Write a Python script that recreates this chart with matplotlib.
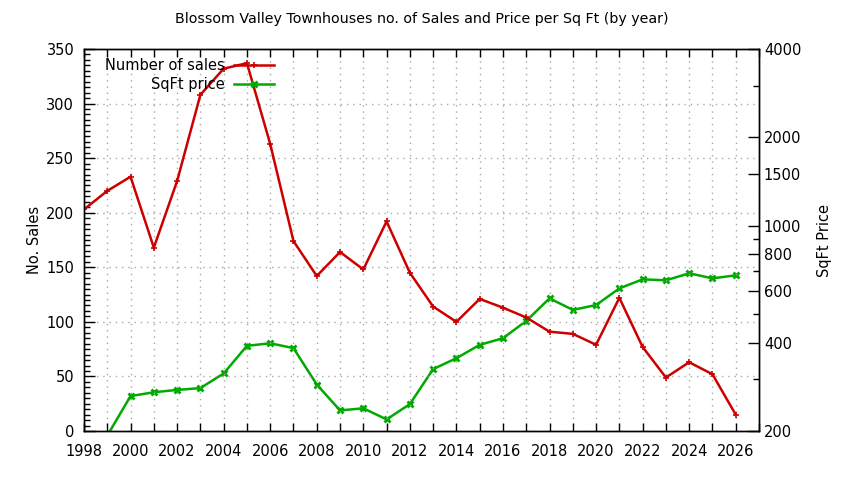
import numpy as np
import matplotlib
matplotlib.use("Agg")
import matplotlib.pyplot as plt
from matplotlib.ticker import FixedLocator, NullFormatter

years = list(range(1998, 2027))
sales = [203, 220, 233, 168, 229, 308, 332, 337, 263, 174, 142, 164, 148, 192,
         145, 114, 100, 121, 113, 104, 91, 89, 79, 122, 77, 49, 63, 52, 15]
price = [np.nan, 193, 263, 271, 276, 280, 314, 390, 398, 383, 288, 235, 239, 219,
         247, 325, 354, 393, 414, 474, 566, 517, 537, 612, 657, 652, 689, 662, 678]

xtick_labels = [str(y) if y % 2 == 0 else "" for y in years + [2027]]
y2_ticks = [200, 400, 600, 800, 1000, 1500, 2000, 4000]
y2_minor = [300, 500, 700, 900, 3000]

RED = "#cc0000"
GREEN = "#00aa00"
FS = 10.5

fig = plt.figure(figsize=(8.44, 4.8), dpi=100)
ax = fig.add_axes([84/844, 1-431/480, (759-84)/844, (431-49)/480])
ax2 = ax.twinx()

l1, = ax.plot(years, sales, color=RED, lw=1.8, marker="+", ms=5, mew=1.2, label="Number of sales")
l2, = ax2.plot(years, price, color=GREEN, lw=1.8, marker="x", ms=4.5, mew=2, label="SqFt price")

ax.set_xlim(1998, 2027)
ax.set_ylim(0, 350)
ax.set_xticks(years + [2027])
ax.set_xticklabels(xtick_labels)
ax.set_yticks(np.arange(0, 351, 50))
ax.yaxis.set_minor_locator(FixedLocator(np.arange(0, 351, 5)))
ax.tick_params(axis="both", which="both", direction="in", labelsize=FS)
ax.tick_params(axis="x", top=True, length=6, width=1, pad=9)
ax.tick_params(axis="y", which="major", length=8, width=1, right=False, pad=7)
ax.tick_params(axis="y", which="minor", length=4, width=1, right=False)
ax.grid(True, which="major", color="#a8a8a8", linestyle=(0, (1, 3.5)), linewidth=1)

ax2.set_yscale("log")
ax2.set_ylim(200, 4000)
ax2.yaxis.set_major_locator(FixedLocator(y2_ticks))
ax2.set_yticklabels([str(v) for v in y2_ticks])
ax2.yaxis.set_minor_locator(FixedLocator(y2_minor))
ax2.yaxis.set_minor_formatter(NullFormatter())
ax2.tick_params(axis="y", which="major", direction="in", length=8, width=1, labelsize=FS)
ax2.tick_params(axis="y", which="minor", direction="in", length=4, width=1)

for a in (ax, ax2):
    for s in a.spines.values():
        s.set_linewidth(1)
        s.set_color("black")

ax.set_ylabel("No. Sales", fontsize=FS, labelpad=3)
ax2.set_ylabel("SqFt Price", fontsize=FS, labelpad=11)
fig.suptitle("Blossom Valley Townhouses no. of Sales and Price per Sq Ft (by year)",
             fontsize=10.3, y=1-19/480, va="center")

leg = ax.legend(handles=[l1, l2], loc="upper left", bbox_to_anchor=(0.016, 1.004),
                frameon=False, markerfirst=False, fontsize=FS, handlelength=2.75,
                numpoints=1, labelspacing=0.3, borderaxespad=0.3, handletextpad=0.6)
for t in leg.get_texts():
    t.set_ha("right")
leg._legend_box.align = "right"
ax.set_zorder(ax2.get_zorder() + 1)
ax.patch.set_visible(False)

fig.savefig("out.png", dpi=100)
